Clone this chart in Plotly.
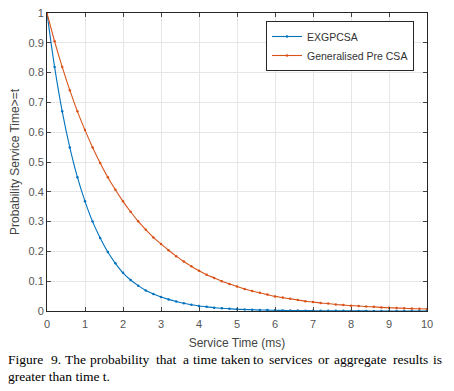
import plotly.graph_objects as go

t_ms = [0.0, 0.2, 0.4, 0.6, 0.8, 1.0, 1.2, 1.4, 1.6, 1.8, 2.0, 2.2, 2.4, 2.6, 2.8, 3.0,
        3.2, 3.4, 3.6, 3.8, 4.0, 4.2, 4.4, 4.6, 4.8, 5.0, 5.2, 5.4, 5.6, 5.8, 6.0,
        6.2, 6.4, 6.6, 6.8, 7.0, 7.2, 7.4, 7.6, 7.8, 8.0, 8.2, 8.4, 8.6, 8.8, 9.0,
        9.2, 9.4, 9.6, 9.8, 10.0]

exgpcsa = [1.000, 0.819, 0.670, 0.549, 0.449, 0.368, 0.300, 0.245, 0.198, 0.160, 0.128,
           0.104, 0.085, 0.069, 0.057, 0.047, 0.039, 0.032, 0.026, 0.021, 0.017,
           0.014, 0.011, 0.009, 0.0075, 0.006, 0.005, 0.004, 0.0035, 0.003, 0.0025,
           0.002, 0.0017, 0.0014, 0.0012, 0.001, 0.0008, 0.0007, 0.0006, 0.0005, 0.0004,
           0.0003, 0.0003, 0.0002, 0.0002, 0.0002, 0.0001, 0.0001, 0.0001, 0.0001, 0.0001]

generalised_pre_csa = [1.000, 0.905, 0.819, 0.741, 0.670, 0.607, 0.549, 0.497, 0.449, 0.407,
                       0.368, 0.333, 0.301, 0.273, 0.247, 0.225, 0.204, 0.184, 0.166, 0.150,
                       0.135, 0.122, 0.111, 0.100, 0.091, 0.082, 0.074, 0.067, 0.061, 0.055,
                       0.049, 0.045, 0.041, 0.037, 0.033, 0.030, 0.027, 0.025, 0.022, 0.020,
                       0.018, 0.017, 0.015, 0.014, 0.012, 0.011, 0.010, 0.009, 0.008, 0.0075,
                       0.0068]

x_ticks = [0, 1, 2, 3, 4, 5, 6, 7, 8, 9, 10]
y_ticks = [0, 0.1, 0.2, 0.3, 0.4, 0.5, 0.6, 0.7, 0.8, 0.9, 1]
y_tick_labels = ["0", "0.1", "0.2", "0.3", "0.4", "0.5", "0.6", "0.7", "0.8", "0.9", "1"]

series_names = ["EXGPCSA", "Generalised Pre CSA"]
series_colors = ["#0072BD", "#D95319"]

caption_line1_words = ["Figure", "9.", "The", "probability", "that", "a", "time", "taken",
                       "to", "services", "or", "aggregate", "results", "is"]
caption_line2 = "greater than time t."

# the page body adds an 8px margin, so the figure is drawn 8px smaller and offset
OFF = 8
W, H = 454 - OFF, 391 - OFF
ML, MT = 47 - OFF, 13 - OFF
PW, PH = 380, 298
MR, MB = W - ML - PW, H - MT - PH


def px_x(px):
    return (px - OFF - ML) / PW


def px_y(py):
    return (MT + PH - (py - OFF)) / PH


fig = go.Figure()
for name, vals, col in zip(series_names, [exgpcsa, generalised_pre_csa], series_colors):
    fig.add_trace(go.Scatter(
        x=t_ms, y=vals, name=name, mode="lines+markers",
        line=dict(color=col, width=1.1, shape="spline"),
        marker=dict(size=2.5, color=col, symbol="circle"),
    ))

axis_color = "#262626"
fig.update_layout(
    width=W, height=H,
    margin=dict(l=ML, r=MR, t=MT, b=MB),
    paper_bgcolor="white", plot_bgcolor="white",
    font=dict(family="Liberation Sans, Arial, sans-serif", size=11, color="#444444"),
    showlegend=True,
    legend=dict(
        x=px_x(266), y=px_y(21), xanchor="left", yanchor="top",
        bgcolor="white", bordercolor=axis_color, borderwidth=1,
        font=dict(size=10.5, color="#333333"),
        itemwidth=30, tracegroupgap=0,
    ),
    xaxis=dict(
        range=[0, 10], tickvals=x_ticks, ticks="inside", ticklen=4,
        showline=True, linecolor=axis_color, linewidth=1, mirror="ticks",
        showgrid=True, gridcolor="#E6E6E6", gridwidth=1, zeroline=False,
        tickfont=dict(size=11, color="#555555"), automargin=False, ticklabelstandoff=3,
        ticklabeloverflow="allow",
        title=dict(text="Service Time (ms)", font=dict(size=12, color="#444444"), standoff=9),
    ),
    yaxis=dict(
        range=[0, 1], tickvals=y_ticks, ticktext=y_tick_labels, ticks="inside", ticklen=4,
        showline=True, linecolor=axis_color, linewidth=1, mirror="ticks",
        showgrid=True, gridcolor="#E6E6E6", gridwidth=1, zeroline=False,
        tickfont=dict(size=11, color="#555555"), automargin=False,
        ticklabeloverflow="allow",
        title=dict(text="Probability Service Time>=t", font=dict(size=12, color="#444444"), standoff=13),
    ),
)

# caption (justified first line: each word placed at its position in the reference)
word_px = [6.7, 50, 64, 89, 155, 181.7, 191.7, 220, 252.3, 268.3, 316.7, 333.3, 391.7, 431.7]
cap_font = dict(family="Liberation Serif, Times New Roman, serif", size=13.5, color="black")
for w, px in zip(caption_line1_words, word_px):
    fig.add_annotation(
        text=w, xref="paper", yref="paper", x=px_x(px), y=px_y(359.5),
        xanchor="left", yanchor="middle", showarrow=False, font=cap_font,
        xshift=-1,
    )
fig.add_annotation(
    text=caption_line2, xref="paper", yref="paper", x=px_x(6.7), y=px_y(376),
    xanchor="left", yanchor="middle", showarrow=False, font=cap_font, xshift=-1,
)

fig.write_html("out.html")
